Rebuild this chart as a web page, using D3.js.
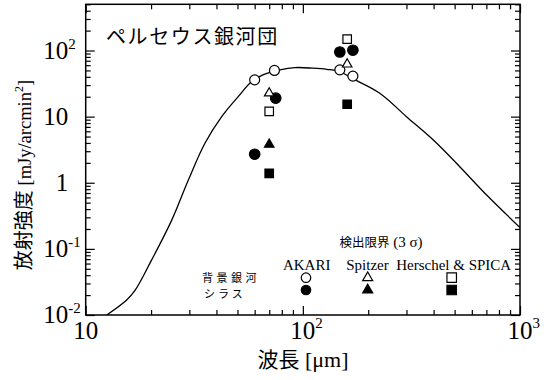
<!DOCTYPE html>
<html><head><meta charset="utf-8">
<script src="https://cdn.jsdelivr.net/npm/d3@7"></script>
<style>
html,body{margin:0;padding:0;background:#fff;}
svg{display:block;}
.serif{font-family:"Liberation Serif","DejaVu Serif","Times New Roman",serif;}
.cjk{font-family:"Noto Sans CJK JP","Noto Sans CJK SC",sans-serif;}
</style></head><body>
<svg id="chart" width="553" height="380"></svg>
<script>
// Model spectrum of the cluster (wavelength in μm, brightness in mJy/arcmin²)
const modelWavelength = [12.5, 15.4, 16.9, 20.1, 24.9, 29.7, 35.4, 42.3, 50.4, 58.1, 65.5, 78.4, 91.9, 111.6, 129, 148, 170.7, 226, 300, 399, 528, 702, 1000];
const modelIntensity  = [0.01, 0.0167, 0.0237, 0.0675, 0.272, 1.10, 3.95, 10, 20.1, 33.9, 42.9, 51, 55.2, 54, 51.9, 48, 37.2, 22.6, 10, 4.43, 1.75, 0.652, 0.21];

// 3σ detection limits: open = background galaxies, filled = cirrus
const akariOpenWavelength = [60, 74, 148, 170];
const akariOpenValue = [36, 50, 51, 41];
const akariFilledWavelength = [60, 75, 148, 170];
const akariFilledValue = [2.7, 19, 95, 101];
const spitzerOpenWavelength = [70, 160];
const spitzerOpenValue = [22.6, 62];
const spitzerFilledWavelength = [70];
const spitzerFilledValue = [3.8];
const herschelOpenWavelength = [70, 160];
const herschelOpenValue = [12, 149];
const herschelFilledWavelength = [70, 160];
const herschelFilledValue = [1.39, 15.4];

// Axis tick labels
const xTickValues = [10, 100, 1000];
const xTickBase = ["10", "10", "10"];
const xTickExp = ["", "2", "3"];
const yTickValues = [0.01, 0.1, 1, 10, 100];
const yTickBase = ["10", "10", "1", "10", "10"];
const yTickExp = ["-2", "-1", "", "", "2"];

// Texts
const titleText = "ペルセウス銀河団";
const xLabelJa = "波長";
const xLabelUnit = " [μm]";
const yLabelJa = "放射強度";
const yLabelUnit = " [mJy/arcmin";
const legendHeader = "検出限界";
const legendSigma = " (3 σ)";
const legendNames = ["AKARI", "Spitzer", "Herschel & SPICA"];
const legendShapes = ["circle", "triangle", "square"];
const sourceLines = ["背景銀河", "シラス"];

const W = 553, H = 380;
const margin = {left: 85.7, top: 4.3, right: 33, bottom: 65};
const iw = W - margin.left - margin.right;
const ih = H - margin.top - margin.bottom;

const svg = d3.select("#chart");
const g = svg.append("g").attr("transform", `translate(${margin.left},${margin.top})`);

const x = d3.scaleLog().domain([10, 1000]).range([0, iw]);
const y = d3.scaleLog().domain([0.01, 500]).range([ih, 0]);

const isMajor = v => Math.abs(Math.log10(v) - Math.round(Math.log10(v))) < 1e-9;

svg.append("defs").append("clipPath").attr("id", "plotclip")
  .append("rect").attr("width", iw).attr("height", ih);

// Inward ticks on all four sides
function styleTicks(sel, sign, horizontal) {
  sel.select(".domain").remove();
  sel.selectAll(".tick text").remove();
  sel.selectAll(".tick line")
    .attr("stroke", "#000").attr("stroke-width", 1.2)
    .each(function(d) {
      const len = isMajor(d) ? 9 : 5;
      d3.select(this).attr(horizontal ? "x2" : "y2", sign * len);
    });
}
const xt = x.ticks(), yt = y.ticks();
g.append("g").attr("transform", `translate(0,${ih})`)
  .call(d3.axisBottom(x).tickValues(xt)).call(s => styleTicks(s, -1, false));
g.append("g").call(d3.axisTop(x).tickValues(xt)).call(s => styleTicks(s, 1, false));
g.append("g").call(d3.axisLeft(y).tickValues(yt)).call(s => styleTicks(s, 1, true));
g.append("g").attr("transform", `translate(${iw},0)`)
  .call(d3.axisRight(y).tickValues(yt)).call(s => styleTicks(s, -1, true));

// Model curve
const modelData = modelWavelength.map((w, i) => [w, modelIntensity[i]]);
g.append("path")
  .datum(modelData)
  .attr("clip-path", "url(#plotclip)")
  .attr("fill", "none").attr("stroke", "#000").attr("stroke-width", 1.3)
  .attr("d", d3.line().x(d => x(d[0])).y(d => y(d[1])).curve(d3.curveCatmullRom.alpha(0.5)));

// Marker shapes
const symbolType = {circle: d3.symbolCircle, triangle: d3.symbolTriangle, square: d3.symbolSquare};
function symbolPath(shape, s) {
  // s = nominal width in px
  let size;
  if (shape === "circle") size = Math.PI * (s / 2) * (s / 2);
  else if (shape === "square") size = s * s;
  else size = Math.sqrt(3) / 4 * s * s;
  return d3.symbol().type(symbolType[shape]).size(size)();
}
function drawMarkers(wl, val, shape, filled, s) {
  g.selectAll(null).data(wl.map((w, i) => [w, val[i]])).enter()
    .append("path")
    .attr("transform", d => `translate(${x(d[0])},${y(d[1])})`)
    .attr("d", symbolPath(shape, s))
    .attr("fill", filled ? "#000" : "#fff")
    .attr("stroke", "#000").attr("stroke-width", 1.2);
}
drawMarkers(akariOpenWavelength, akariOpenValue, "circle", false, 10);
drawMarkers(akariFilledWavelength, akariFilledValue, "circle", true, 10.5);
drawMarkers(spitzerOpenWavelength, spitzerOpenValue, "triangle", false, 9.5);
drawMarkers(spitzerFilledWavelength, spitzerFilledValue, "triangle", true, 9.5);
drawMarkers(herschelOpenWavelength, herschelOpenValue, "square", false, 8.5);
drawMarkers(herschelFilledWavelength, herschelFilledValue, "square", true, 8.5);

// Frame
g.append("rect").attr("width", iw).attr("height", ih)
  .attr("fill", "none").attr("stroke", "#000").attr("stroke-width", 1.5);

// Tick labels
xTickValues.forEach((v, i) => {
  const t = g.append("text").attr("class", "serif").attr("x", x(v)).attr("y", ih + 24)
    .attr("text-anchor", "middle").style("font-size", "25px")
    .text(xTickBase[i]);
  if (xTickExp[i]) {
    const wdt = t.node().getComputedTextLength();
    g.append("text").attr("class", "serif").attr("x", x(v) + wdt / 2).attr("y", ih + 13)
      .style("font-size", "15px").text(xTickExp[i]);
  }
});
yTickValues.forEach((v, i) => {
  const ty = y(v) + 8;
  g.append("text").attr("class", "serif").attr("x", -17.5).attr("y", ty)
    .attr("text-anchor", "end").style("font-size", "25px")
    .text(yTickBase[i]);
  if (yTickExp[i]) {
    g.append("text").attr("class", "serif").attr("x", -17.5).attr("y", ty - 10)
      .style("font-size", "15px").text(yTickExp[i]);
  }
});

// Axis titles
const xl = svg.append("text").attr("x", 303).attr("y", 367).attr("text-anchor", "middle");
xl.append("tspan").attr("class", "cjk").style("font-size", "21px").text(xLabelJa);
xl.append("tspan").attr("class", "serif").style("font-size", "22px").style("white-space", "pre").text(xLabelUnit);

const yl = svg.append("text").attr("transform", "translate(31,175) rotate(-90)").attr("text-anchor", "middle");
yl.append("tspan").attr("class", "cjk").style("font-size", "20px").text(yLabelJa);
yl.append("tspan").attr("class", "serif").style("font-size", "18.5px").style("white-space", "pre").text(yLabelUnit);
yl.append("tspan").attr("class", "serif").style("font-size", "12px").attr("dy", -8).text("2");
yl.append("tspan").attr("class", "serif").style("font-size", "18.5px").attr("dy", 8).text("]");

// Title
svg.append("text").attr("class", "cjk").attr("x", 106).attr("y", 44)
  .style("font-size", "20px").attr("letter-spacing", 1.6)
  .text(titleText);

// Legend
const lh = svg.append("text").attr("x", 381).attr("y", 247).attr("text-anchor", "middle");
lh.append("tspan").attr("class", "cjk").style("font-size", "12.5px").text(legendHeader);
lh.append("tspan").attr("class", "serif").style("font-size", "15px").style("white-space", "pre").text(legendSigma);

const legendTextX = [306.7, 367.5, 453.7];
const legendMarkX = [306, 367.7, 451.7];
const legendRowY = [277.7, 290];
const legendSize = {circle: 9.5, triangle: 10, square: 9.5};
legendNames.forEach((name, i) => {
  svg.append("text").attr("class", "serif").attr("x", legendTextX[i]).attr("y", 270)
    .attr("text-anchor", "middle").style("font-size", "15px")
    .text(name);
  legendRowY.forEach((ry, r) => {
    svg.append("path")
      .attr("transform", `translate(${legendMarkX[i]},${ry})`)
      .attr("d", symbolPath(legendShapes[i], legendSize[legendShapes[i]]))
      .attr("fill", r === 1 ? "#000" : "#fff")
      .attr("stroke", "#000").attr("stroke-width", 1.2);
  });
});

// Two-line source note
const src = svg.append("text").attr("class", "cjk").attr("y", 281.5);
src.append("tspan").attr("x", 202).style("font-size", "11px")
  .attr("letter-spacing", 3.5).text(sourceLines[0]);
src.append("tspan").attr("x", 204).attr("dy", 16).style("font-size", "11px")
  .attr("letter-spacing", 3).text(sourceLines[1]);
</script>
</body></html>
